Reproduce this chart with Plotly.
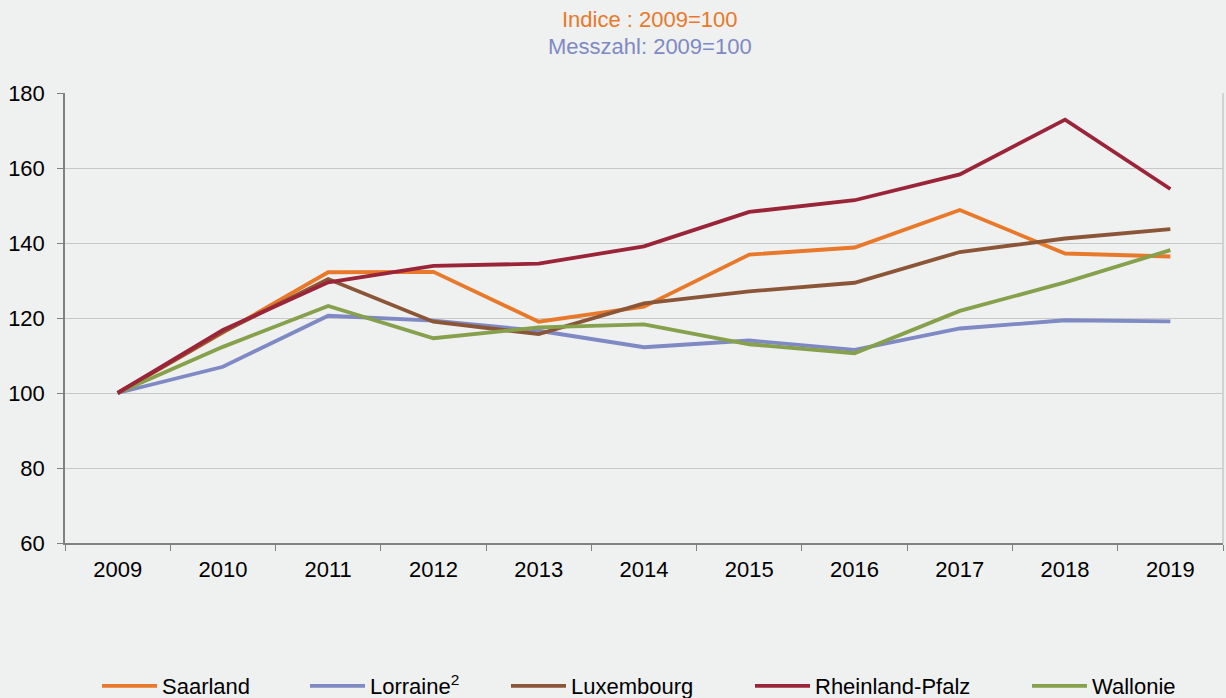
import plotly.graph_objects as go

years = ["2009", "2010", "2011", "2012", "2013", "2014", "2015", "2016", "2017", "2018", "2019"]

saarland = [100, 116.2, 132.2, 132.3, 119.0, 123.0, 136.9, 138.8, 148.8, 137.2, 136.4]
lorraine = [100, 107.0, 120.6, 119.3, 116.6, 112.2, 114.0, 111.5, 117.2, 119.4, 119.1]
luxembourg = [100, 116.3, 130.4, 119.0, 115.7, 123.9, 127.1, 129.4, 137.6, 141.2, 143.7]
rheinland_pfalz = [100, 116.8, 129.5, 133.9, 134.5, 139.1, 148.3, 151.4, 158.3, 172.9, 154.4]
wallonie = [100, 112.3, 123.2, 114.6, 117.5, 118.3, 113.0, 110.6, 121.9, 129.5, 138.1]

series_names = ["Saarland", "Lorraine<sup>2</sup>", "Luxembourg", "Rheinland-Pfalz", "Wallonie"]
series_values = [saarland, lorraine, luxembourg, rheinland_pfalz, wallonie]
colors = ["#E8792A", "#7F89C3", "#8B5637", "#9A2438", "#86A04B"]
legend_ids = ["legend", "legend2", "legend3", "legend4", "legend5"]
legend_text_x = [162, 370, 571, 815, 1092]

title_lines = ["Indice : 2009=100", "Messzahl: 2009=100"]
title_colors = ["#E8792A", "#7F89C3"]

W, H = 1226, 698
L, R, T, B = 65, 3, 93, 155
bg = "#EFF0F0"
FONT = "Liberation Sans, Arial, sans-serif"

fig = go.Figure()
order = [0, 1, 2, 4, 3]
for i in order:
    fig.add_trace(go.Scatter(
        x=years, y=series_values[i], name=series_names[i], mode="lines",
        line=dict(color=colors[i], width=3.8), legend=legend_ids[i],
    ))

ITEMW = 55
layout_legends = {}
for i, lid in enumerate(legend_ids):
    layout_legends[lid] = dict(
        orientation="h", xref="container", yref="container",
        x=(legend_text_x[i] - 40 - (ITEMW - 30)) / W, y=1 - 686 / H,
        xanchor="left", yanchor="middle", itemwidth=ITEMW,
        bgcolor="rgba(0,0,0,0)", font=dict(size=22, color="#000000", family=FONT),
    )

plot_h = H - T - B
plot_w = W - L - R
annotations = []
for txt, col, py in zip(title_lines, title_colors, [20, 46]):
    annotations.append(dict(
        text=txt, xref="paper", yref="paper",
        x=(650 - L) / plot_w, y=(H - B - py) / plot_h,
        xanchor="center", yanchor="middle", showarrow=False,
        font=dict(size=22, color=col, family=FONT),
    ))

fig.update_layout(
    width=W, height=H,
    paper_bgcolor=bg, plot_bgcolor=bg,
    margin=dict(l=L, r=R, t=T, b=B),
    font=dict(family=FONT, color="#000000"),
    showlegend=True,
    annotations=annotations,
    **layout_legends,
)

fig.update_xaxes(
    type="category", tickson="boundaries", ticks="outside", ticklen=6,
    tickcolor="#808080", showline=True, linecolor="#808080", linewidth=1.5,
    showgrid=False, tickfont=dict(size=22), ticklabelstandoff=6,
    range=[-0.5, 10.5],
)
fig.update_yaxes(
    range=[60, 180], dtick=20, ticks="outside", ticklen=6, tickcolor="#808080",
    showline=True, linecolor="#808080", linewidth=1.5,
    showgrid=True, gridcolor="#C8C8C8", gridwidth=1.2,
    tickfont=dict(size=22), zeroline=False, ticklabelstandoff=8,
)
fig.add_shape(type="line", xref="paper", yref="paper", x0=1, x1=1, y0=0, y1=1,
              line=dict(color="#C8C8C8", width=1.5))

fig.write_html(
    "out.html",
    config={"displayModeBar": False},
    post_script="document.body.style.margin='0';document.body.style.background='" + bg + "';",
)
